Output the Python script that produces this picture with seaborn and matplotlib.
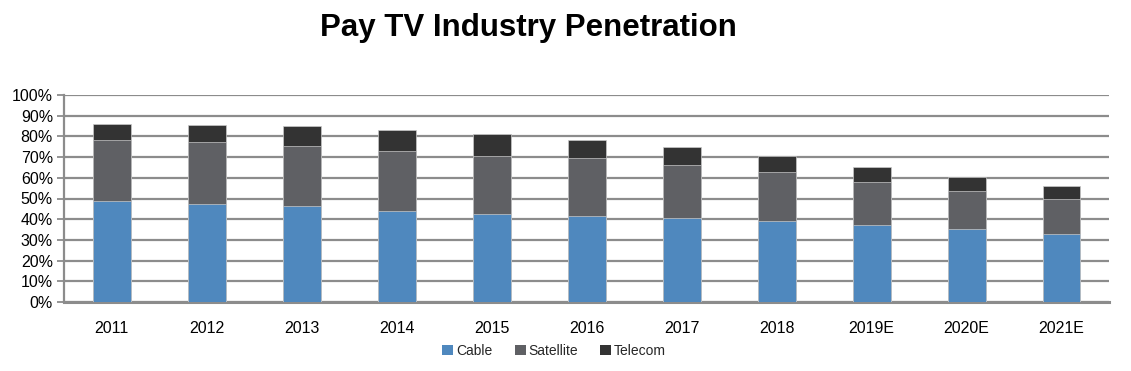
import matplotlib
matplotlib.use("Agg")
import matplotlib.pyplot as plt
import seaborn as sns
import numpy as np
import pandas as pd
from matplotlib.patches import Patch
from matplotlib.ticker import PercentFormatter, FixedLocator

years = ["2011", "2012", "2013", "2014", "2015", "2016", "2017", "2018", "2019E", "2020E", "2021E"]
cable = [48.8, 47.3, 46.4, 44.0, 42.4, 41.6, 40.5, 39.2, 37.2, 35.3, 32.9]
satellite = [29.4, 30.1, 29.0, 29.0, 28.1, 27.9, 25.6, 23.6, 20.7, 18.3, 16.7]
telecom = [8.0, 8.3, 9.5, 10.3, 10.9, 9.0, 8.9, 7.7, 7.1, 6.8, 6.3]

series_names = ["Cable", "Satellite", "Telecom"]
colors = ["#4F88BE", "#5F6064", "#333333"]

sns.set_style("white")
plt.rcParams['font.family'] = ['Liberation Sans', 'DejaVu Sans']

df = pd.DataFrame({"year": years, "Cable": cable, "Satellite": satellite, "Telecom": telecom})
df["c1"] = df["Cable"]
df["c2"] = df["Cable"] + df["Satellite"]
df["c3"] = df["c2"] + df["Telecom"]

fig = plt.figure(figsize=(11.31, 3.71), dpi=100)
ax = fig.add_axes([64/1131, 1-302/371, (1109-64)/1131, (302-95)/371])

for col, c in zip(["c3", "c2", "c1"], colors[::-1]):
    sns.barplot(data=df, x="year", y=col, color=c, width=0.4, ax=ax,
                edgecolor="#C8C8C8", linewidth=0.5, saturation=1, zorder=3)

ax.set_ylim(0, 100)
ax.set_xlim(-0.5, len(years) - 0.5)
ax.yaxis.set_major_locator(FixedLocator(np.arange(0, 101, 10)))
ax.yaxis.set_major_formatter(PercentFormatter(decimals=0))
ax.grid(axis="y", color="#8C8C8C", linewidth=1.6, zorder=0)
ax.set_axisbelow(True)
ax.set_xlabel("")
ax.set_ylabel("")

for s in ["top", "right"]:
    ax.spines[s].set_visible(False)
ax.spines["left"].set_color("#8C8C8C")
ax.spines["left"].set_linewidth(1.6)
ax.spines["bottom"].set_color("#8C8C8C")
ax.spines["bottom"].set_linewidth(2.2)

ax.tick_params(axis="x", which="major", length=0, labelsize=11.5, pad=14, labelcolor="black")
ax.set_xticks(np.arange(-0.5, len(years) + 0.5, 1), minor=True)
ax.tick_params(axis="x", which="minor", length=5, width=1.3, color="#8C8C8C", direction="out")
ax.tick_params(axis="y", which="major", length=5, width=1.3, color="#8C8C8C", labelsize=11.5, pad=3, labelcolor="black", left=True)

fig.text(0.467, 0.925, "Pay TV Industry Penetration", ha="center", va="center",
         fontsize=22.5, fontweight="bold", color="black",
         family=["Liberation Sans Narrow", "Liberation Sans", "DejaVu Sans"])

handles = [Patch(facecolor=c, edgecolor="none", label=n) for n, c in zip(series_names, colors)]
fig.legend(handles=handles, loc="center", bbox_to_anchor=(0.49, 0.054), ncol=3, frameon=False,
           fontsize=10, handlelength=0.8, handleheight=0.8, handletextpad=0.2, columnspacing=1.6)

fig.savefig("out.png", dpi=100)
